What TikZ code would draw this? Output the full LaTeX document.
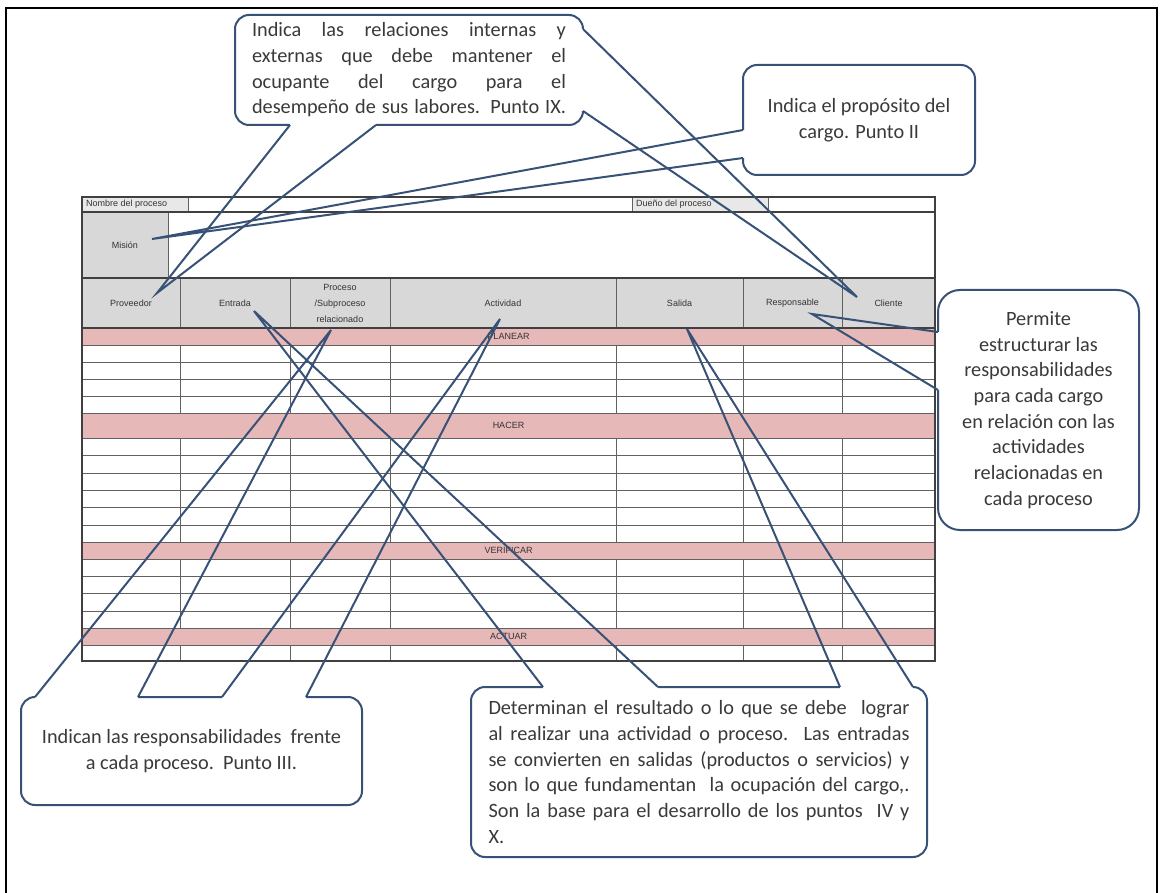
\documentclass[tikz,border=0pt]{standalone}
\usepackage{fontspec}
\usepackage{tikz}
\newfontfamily\notefont{Carlito}
\newfontfamily\cellfont{Liberation Sans}
\definecolor{tailblue}{RGB}{55,82,118}
\definecolor{bandpink}{RGB}{230,184,183}
\definecolor{headgray}{RGB}{216,216,216}
\definecolor{notegray}{RGB}{58,58,58}
\colorlet{gridgray}{black!62}
\newcommand{\band}[4]{%
  \fill[bandpink] (82,#1) rectangle (935,#2);
  \draw[gridline] (82,#1) -- (935,#1) (82,#2) -- (935,#2);
  \node[celltext] (#4) at (508.5,{(#1+#2)/2}) {#3};}
\newcommand{\colsep}[2]{%
  \foreach \cx in {180,290,390,616,743,842}
    \draw[gridline] (\cx,#1) -- (\cx,#2);}

\begin{document}
\begin{tikzpicture}[x=1pt, y=-1pt,
    gridline/.style={draw=gridgray, line width=0.9pt},
    celltext/.style={font=\cellfont\fontsize{9}{16}\selectfont, text=black!80, inner sep=0pt, align=center},
    callout/.style={draw=tailblue, line width=2pt, fill=white, rounded corners=14pt, inner sep=0pt,
      align=center, text=notegray, font=\notefont\fontsize{20.3}{25.7}\selectfont},
    tail/.style={draw=tailblue, line width=2pt, line join=miter},
    eraser/.style={draw=white, line width=3.2pt}]
  \useasboundingbox (0,0) rectangle (1163,893);
  \draw[line width=2pt] (6,8) rectangle (1157,897);

  % title row
  \fill[headgray!60] (82,197) rectangle (188,212);
  \fill[headgray!60] (632,197) rectangle (768,212);
  \draw[gridline] (188,197) -- (188,212) (632,197) -- (632,212) (768,197) -- (768,212);
  \node[celltext, anchor=west] (nombre) at (86,204.5) {Nombre del proceso};
  \node[celltext, anchor=west] (dueno) at (636,204.5) {Dueño del proceso};
  % mision
  \fill[headgray] (82,212) rectangle (168,278);
  \draw[gridline] (168,212) -- (168,278);
  \node[celltext] (mision) at (125,245) {Misión};
  % header
  \fill[headgray] (82,278) rectangle (935,328);
  \colsep{278}{328}
  \node[celltext] (prov) at (131,303) {Proveedor};
  \node[celltext] (entr) at (235,303) {Entrada};
  \node[celltext] (proc) at (340,303) {Proceso\\/Subproceso\\relacionado};
  \node[celltext] (activ) at (503,303) {Actividad};
  \node[celltext] (sal) at (679.5,303) {Salida};
  \node[celltext] (resp) at (792.5,303) {Responsable};
  \node[celltext] (cli) at (888.5,303) {Cliente};

  % PHVA blocks
  \band{328}{345}{PLANEAR}{planear}
  \foreach \ry in {362,379,396} \draw[gridline] (82,\ry) -- (935,\ry);
  \colsep{345}{413}
  \band{413}{438}{HACER}{hacer}
  \foreach \ry in {455,473,490,507,525} \draw[gridline] (82,\ry) -- (935,\ry);
  \colsep{438}{542}
  \band{542}{559}{VERIFICAR}{verificar}
  \foreach \ry in {576,593,611} \draw[gridline] (82,\ry) -- (935,\ry);
  \colsep{559}{628}
  \band{628}{645}{ACTUAR}{actuar}
  \colsep{645}{661}
  \draw[line width=1.1pt, black!75] (82,197) rectangle (935,661);
  \draw[line width=1.1pt, black!75] (82,212) -- (935,212) (82,278) -- (935,278) (82,328) -- (935,328);

  % callouts
  \node[callout, minimum width=348pt, minimum height=110pt] (rel) at (409,70)
    {\makebox[314pt][s]{Indica las relaciones internas y}\\
     \makebox[314pt][s]{externas que debe mantener el}\\
     \makebox[314pt][s]{ocupante del cargo para el}\\
     \makebox[314pt][s]{desempeño de sus labores.  Punto IX.}};
  \node[callout, minimum width=232pt, minimum height=110pt] (prop) at (859,120)
    {Indica el propósito del\\cargo. Punto II};
  \node[callout, rounded corners=22pt, minimum width=201pt, minimum height=240pt] (perm) at (1038.5,410)
    {Permite\\estructurar las\\responsabilidades\\para cada cargo\\en relación con las\\actividades\\relacionadas en\\cada proceso};
  \node[callout, minimum width=341pt, minimum height=108pt] (indi) at (191.5,751)
    {Indican las responsabilidades\ \ frente\\a cada proceso.\ \ Punto III.};
  \node[callout, minimum width=456pt, minimum height=170pt] (det) at (699,772)
    {\makebox[421pt][s]{Determinan el resultado o lo que se debe\ \ lograr}\\
     \makebox[421pt][s]{al realizar una actividad o proceso.\ \ Las entradas}\\
     \makebox[421pt][s]{se convierten en salidas (productos o servicios) y}\\
     \makebox[421pt][s]{son lo que fundamentan\ \ la ocupación del cargo,.}\\
     \makebox[421pt][s]{Son la base para el desarrollo de los puntos\ \ IV y}\\
     \makebox[421pt][l]{X.}};

  % tips in the form
  \coordinate (tipMis) at (152,239);
  \coordinate (tipProv) at (157,293);
  \coordinate (tipEnt) at (254,311);
  \coordinate (tipProc) at (331,330);
  \coordinate (tipAct) at (500,319);
  \coordinate (tipSal) at (687,329);
  \coordinate (tipResp) at (812,314);
  \coordinate (tipCli) at (857,297);
  % tail bases on the callouts
  \coordinate (relB1) at (290,125);  \coordinate (relB2) at (376,125);
  \coordinate (relR1) at (583,29);   \coordinate (relR2) at (583,111);
  \coordinate (propL1) at (743,130); \coordinate (propL2) at (743,158);
  \coordinate (permL1) at (938,332); \coordinate (permL2) at (938,390);
  \coordinate (indA1) at (35,697);   \coordinate (indA2) at (138,697);
  \coordinate (indB1) at (222,697);  \coordinate (indB2) at (306,697);
  \coordinate (detE1) at (543,687);  \coordinate (detE2) at (658,687);
  \coordinate (detS1) at (840,687);  \coordinate (detS2) at (913,687);

  \draw[eraser] (relB1) -- (relB2) (relR1) -- (relR2) (propL1) -- (propL2) (permL1) -- (permL2);
  \draw[eraser] (indA1) -- (indA2) (indB1) -- (indB2) (detE1) -- (detE2) (detS1) -- (detS2);

  \draw[tail] (relB1) -- (tipProv) -- (relB2);
  \draw[tail] (relR1) -- (tipCli) -- (relR2);
  \draw[tail] (propL1) -- (tipMis) -- (propL2);
  \draw[tail] (permL1) -- (tipResp) -- (permL2);
  \draw[tail] (indA1) -- (tipProc) -- (indA2);
  \draw[tail] (indB1) -- (tipAct) -- (indB2);
  \draw[tail] (detE1) -- (tipEnt) -- (detE2);
  \draw[tail] (detS1) -- (tipSal) -- (detS2);
\end{tikzpicture}
\end{document}
